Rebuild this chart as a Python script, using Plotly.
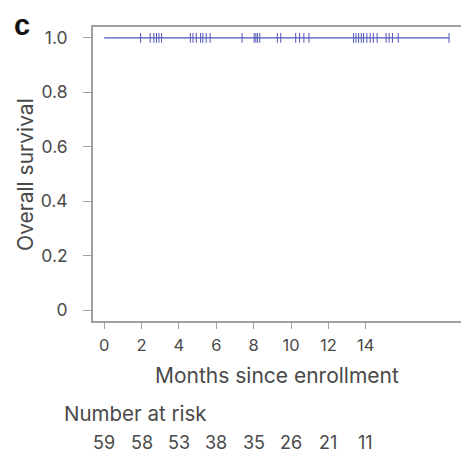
import plotly.graph_objects as go

# Censoring times (months since enrollment); no deaths observed, so survival stays at 1.0
censor_months = [1.95, 2.46, 2.66, 2.80, 2.93, 3.07, 4.61, 4.75, 4.93, 5.16, 5.28, 5.46, 5.67,
                 7.38, 8.03, 8.12, 8.21, 8.33, 9.27, 9.45, 10.25, 10.46, 10.69, 10.96,
                 13.35, 13.48, 13.62, 13.76, 13.88, 14.06, 14.24, 14.41, 14.61,
                 15.09, 15.25, 15.43, 15.74, 18.46]
survival = [1.0] * len(censor_months)

x_ticks = [0, 2, 4, 6, 8, 10, 12, 14]
y_ticks = [0, 0.2, 0.4, 0.6, 0.8, 1.0]
y_tick_labels = ["0", "0.2", "0.4", "0.6", "0.8", "1.0"]
at_risk = [59, 58, 53, 38, 35, 26, 21, 11]

line_color = "#5257b9"
text_color = "#4a4a4a"
axis_color = "#a0a0a0"
font_family = "Inter, Open Sans, sans-serif"

fig = go.Figure()

# Kaplan-Meier curve (flat at 1.0)
fig.add_trace(go.Scatter(
    x=[0] + censor_months, y=[1.0] + survival,
    mode="lines", line=dict(color=line_color, width=1.1, shape="hv"),
    hoverinfo="skip", showlegend=False,
))

# Censor ticks
fig.add_trace(go.Scatter(
    x=censor_months, y=survival, mode="markers",
    marker=dict(symbol="line-ns", size=7, line=dict(color=line_color, width=1)),
    showlegend=False,
))

fig.update_layout(
    width=461, height=453,
    margin=dict(l=93, r=0, t=27, b=132),
    paper_bgcolor="white", plot_bgcolor="white",
    font=dict(family=font_family, color=text_color, size=16),
    xaxis=dict(
        range=[-0.6, 19.1], tickvals=x_ticks, ticktext=[str(v) for v in x_ticks],
        showgrid=False, zeroline=False, showline=True, mirror=True,
        linecolor=axis_color, linewidth=1.8,
        ticks="outside", ticklen=6, tickcolor=axis_color, tickwidth=1.2,
        tickfont=dict(size=16.5, color=text_color), ticklabelstandoff=2,
    ),
    yaxis=dict(
        range=[-0.04, 1.04], tickvals=y_ticks, ticktext=y_tick_labels,
        showgrid=False, zeroline=False, showline=True,
        linecolor=axis_color, linewidth=1.8,
        ticks="outside", ticklen=8, tickcolor=axis_color, tickwidth=1.2,
        tickfont=dict(size=17.5, color=text_color), ticklabelstandoff=12,
    ),
)

# Panel letter
fig.add_annotation(text="<b>c</b>", xref="paper", yref="paper", x=-0.22, y=0.945,
                   xanchor="left", yanchor="bottom", showarrow=False,
                   font=dict(size=29, color="#111111", family="Liberation Sans, Arial, sans-serif"))

# Y-axis title
fig.add_annotation(text="Overall survival", xref="paper", yref="paper",
                   x=-0.185, y=0.5, xanchor="center", yanchor="middle", showarrow=False,
                   textangle=-90, font=dict(size=21, color=text_color))

# X-axis title
fig.add_annotation(text="Months since enrollment", xref="paper", yref="paper",
                   x=0.5, y=-0.187, xanchor="center", yanchor="middle", showarrow=False,
                   font=dict(size=21, color=text_color))

# Number at risk table
fig.add_annotation(text="Number at risk", xref="paper", yref="paper",
                   x=-0.084, y=-0.313, xanchor="left", yanchor="middle", showarrow=False,
                   font=dict(size=20.5, color=text_color))
for xv, n in zip(x_ticks, at_risk):
    fig.add_annotation(text=str(n), xref="x", yref="paper", x=xv, y=-0.414,
                       xanchor="center", yanchor="middle", showarrow=False,
                       font=dict(size=18, color=text_color))

fig.write_html("out.html")
